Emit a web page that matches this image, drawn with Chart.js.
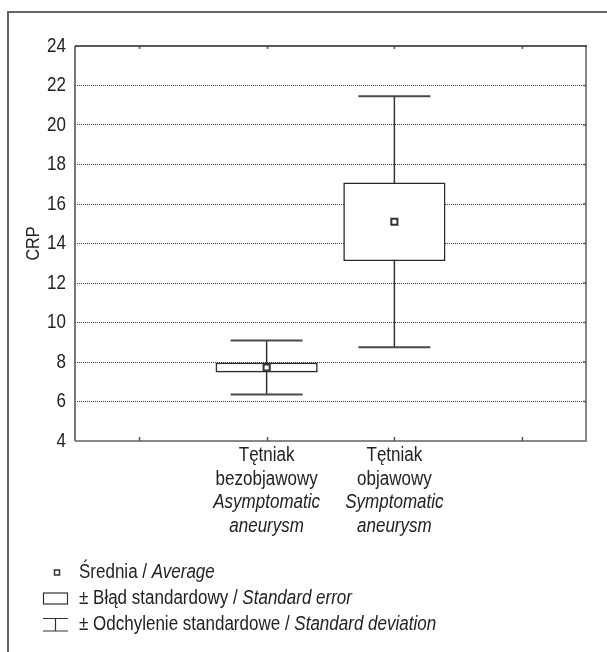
<!DOCTYPE html>
<html>
<head>
<meta charset="utf-8">
<script src="https://cdn.jsdelivr.net/npm/chart.js@4.4.1/dist/chart.umd.min.js"></script>
<style>
  html, body { margin: 0; padding: 0; background: #fff; }
  #wrap { position: relative; width: 607px; height: 652px; }
  canvas { display: block; }
</style>
</head>
<body>
<div id="wrap"><canvas id="crp" width="607" height="652"></canvas></div>
<script>
// CRP by aneurysm type: mean, ± standard error box, ± standard deviation whiskers
const yMin = 4;
const yMax = 24;
const yStep = 2;
const xTickValues = [0, 1, 2, 3];
const categoryPositions = [1, 2];
const labelPl = [['Tętniak', 'bezobjawowy'], ['Tętniak', 'objawowy']];
const labelEn = [['Asymptomatic', 'aneurysm'], ['Symptomatic', 'aneurysm']];
const means = [7.72, 15.10];
const stdErrors = [0.25, 1.99];
const stdDevs = [1.37, 6.35];
const axisTitle = 'CRP';
const legendItems = [
  ['Średnia / ', 'Average'],
  ['± Błąd standardowy / ', 'Standard error'],
  ['± Odchylenie standardowe / ', 'Standard deviation']
];

const FONT = '"Liberation Sans", Arial, sans-serif';
const NARROW = 0.85;   // horizontal squeeze for a condensed look
const INK = '#222';

// data points built from the arrays above
const seBoxes = categoryPositions.map((x, i) => ({ x, y: [means[i] - stdErrors[i], means[i] + stdErrors[i]] }));
const sdStems = [];
categoryPositions.forEach((x, i) => {
  sdStems.push({ x, y: means[i] - stdDevs[i] }, { x, y: means[i] + stdDevs[i] }, { x: x + 0.5, y: null });
});
const sdCaps = categoryPositions.flatMap((x, i) => [
  { x, y: means[i] - stdDevs[i] }, { x, y: means[i] + stdDevs[i] }
]);
const meanPoints = categoryPositions.map((x, i) => ({ x, y: means[i] }));

// condensed text: squeeze horizontally around the anchor point
function narrowText(ctx, text, x, y, font, align) {
  ctx.save();
  ctx.font = font;
  ctx.textAlign = align || 'left';
  ctx.textBaseline = 'middle';
  ctx.translate(x, y);
  ctx.scale(NARROW, 1);
  ctx.fillText(text, 0, 0);
  const w = ctx.measureText(text).width * NARROW;
  ctx.restore();
  return w;
}

// frame, axis ticks and labels, axis title and legend
const decorations = {
  id: 'decorations',
  beforeDraw(chart) {
    const ctx = chart.ctx;
    ctx.save();
    ctx.fillStyle = '#fff';
    ctx.fillRect(0, 0, chart.width, chart.height);
    ctx.strokeStyle = '#666';
    ctx.lineWidth = 2;
    ctx.beginPath();
    ctx.moveTo(8, chart.height);
    ctx.lineTo(8, 12);
    ctx.lineTo(chart.width, 12);
    ctx.stroke();
    ctx.restore();
  },
  afterDraw(chart) {
    const ctx = chart.ctx;
    const a = chart.chartArea;
    const xs = chart.scales.x;
    const ys = chart.scales.y;
    ctx.save();

    // plot border
    ctx.lineWidth = 2;
    ctx.strokeStyle = '#888';
    ctx.beginPath();
    ctx.moveTo(a.left, a.bottom); ctx.lineTo(a.right, a.bottom); ctx.lineTo(a.right, a.top);
    ctx.stroke();
    ctx.strokeStyle = '#777';
    ctx.beginPath();
    ctx.moveTo(a.left, a.top); ctx.lineTo(a.left, a.bottom);
    ctx.stroke();
    ctx.lineWidth = 1.5;
    ctx.strokeStyle = INK;
    ctx.beginPath();
    ctx.moveTo(a.left, a.top); ctx.lineTo(a.right + 1, a.top);
    ctx.stroke();

    // small inward ticks
    ctx.lineWidth = 1.5;
    ctx.strokeStyle = '#555';
    ctx.beginPath();
    xTickValues.forEach(v => {
      const px = Math.round(xs.getPixelForValue(v)) + 0.5;
      ctx.moveTo(px, a.top); ctx.lineTo(px, a.top + 3);
      ctx.moveTo(px, a.bottom); ctx.lineTo(px, a.bottom - 4);
    });
    ys.ticks.forEach(t => {
      if (t.value === yMin || t.value === yMax) return;
      const py = ys.getPixelForValue(t.value);
      ctx.moveTo(a.right - 3, py); ctx.lineTo(a.right, py);
    });
    ctx.stroke();

    ctx.fillStyle = INK;

    // y tick labels
    ys.ticks.forEach(t => {
      narrowText(ctx, String(t.value), a.left - 9, ys.getPixelForValue(t.value), '20px ' + FONT, 'right');
    });

    // category labels
    const rows = [455.5, 479, 502.5, 526];
    categoryPositions.forEach((v, i) => {
      const px = xs.getPixelForValue(v);
      narrowText(ctx, labelPl[i][0], px, rows[0], '20px ' + FONT, 'center');
      narrowText(ctx, labelPl[i][1], px, rows[1], '20px ' + FONT, 'center');
      narrowText(ctx, labelEn[i][0], px, rows[2], 'italic 20px ' + FONT, 'center');
      narrowText(ctx, labelEn[i][1], px, rows[3], 'italic 20px ' + FONT, 'center');
    });

    // y axis title
    ctx.save();
    ctx.translate(34, (a.top + a.bottom) / 2);
    ctx.rotate(-Math.PI / 2);
    narrowText(ctx, axisTitle, 0, 0, '19px ' + FONT, 'center');
    ctx.restore();

    // legend
    const legY = [572.5, 598.5, 624.5];
    const textX = 79;
    ctx.strokeStyle = '#333';
    ctx.lineWidth = 1.5;
    ctx.strokeRect(54.5, legY[0] - 2.5, 5, 5);
    ctx.lineWidth = 1.2;
    ctx.strokeRect(43.5, legY[1] - 5.5, 24, 11);
    ctx.beginPath();
    ctx.moveTo(43, legY[2] - 6); ctx.lineTo(68, legY[2] - 6);
    ctx.moveTo(43, legY[2] + 6.5); ctx.lineTo(68, legY[2] + 6.5);
    ctx.moveTo(55.5, legY[2] - 6); ctx.lineTo(55.5, legY[2] + 6.5);
    ctx.stroke();

    legendItems.forEach((item, i) => {
      const w = narrowText(ctx, item[0], textX, legY[i], '20px ' + FONT, 'left');
      narrowText(ctx, item[1], textX + w, legY[i], 'italic 20px ' + FONT, 'left');
    });

    ctx.restore();
  }
};

Chart.defaults.font.family = FONT;
Chart.defaults.color = INK;

new Chart(document.getElementById('crp'), {
  type: 'bar',
  data: {
    datasets: [
      {
        type: 'scatter',
        label: 'Średnia',
        data: meanPoints,
        pointStyle: 'rect',
        pointRadius: 4.3,
        pointBackgroundColor: '#fff',
        pointBorderColor: '#333',
        pointBorderWidth: 2,
        order: 0
      },
      {
        type: 'scatter',
        label: 'SD caps',
        data: sdCaps,
        pointStyle: 'line',
        pointRadius: 36,
        pointBorderColor: '#4a4a4a',
        pointBorderWidth: 2,
        order: 1
      },
      {
        type: 'bar',
        label: '± Błąd standardowy',
        data: seBoxes,
        backgroundColor: '#fff',
        borderColor: '#2a2a2a',
        borderWidth: 1.6,
        borderSkipped: false,
        categoryPercentage: 1,
        barPercentage: 0.8,
        order: 2
      },
      {
        type: 'line',
        label: '± Odchylenie standardowe',
        data: sdStems,
        borderColor: '#333',
        borderWidth: 1.5,
        pointRadius: 0,
        spanGaps: false,
        fill: false,
        order: 3
      }
    ]
  },
  options: {
    responsive: false,
    animation: false,
    devicePixelRatio: 1,
    events: [],
    layout: { autoPadding: false, padding: { left: 0, right: 21, top: 46, bottom: 0 } },
    plugins: { legend: { display: false }, tooltip: { enabled: false } },
    scales: {
      x: {
        type: 'linear',
        min: -0.5,
        max: 3.5,
        offset: false,
        grid: { display: false },
        border: { display: false },
        ticks: { display: false },
        afterBuildTicks: s => { s.ticks = xTickValues.map(v => ({ value: v })); },
        afterFit: s => { s.height = 211; s.paddingLeft = 0; s.paddingRight = 0; }
      },
      y: {
        min: yMin,
        max: yMax,
        ticks: { stepSize: yStep, display: false },
        grid: {
          drawTicks: false,
          lineWidth: 1,
          color: c => (c.tick && (c.tick.value === yMin || c.tick.value === yMax)) ? 'rgba(0,0,0,0)' : '#3a3a3a'
        },
        border: { display: false, dash: [1, 1] },
        afterFit: s => { s.width = 75; s.paddingTop = 0; s.paddingBottom = 0; }
      }
    }
  },
  plugins: [decorations]
});
</script>
</body>
</html>
